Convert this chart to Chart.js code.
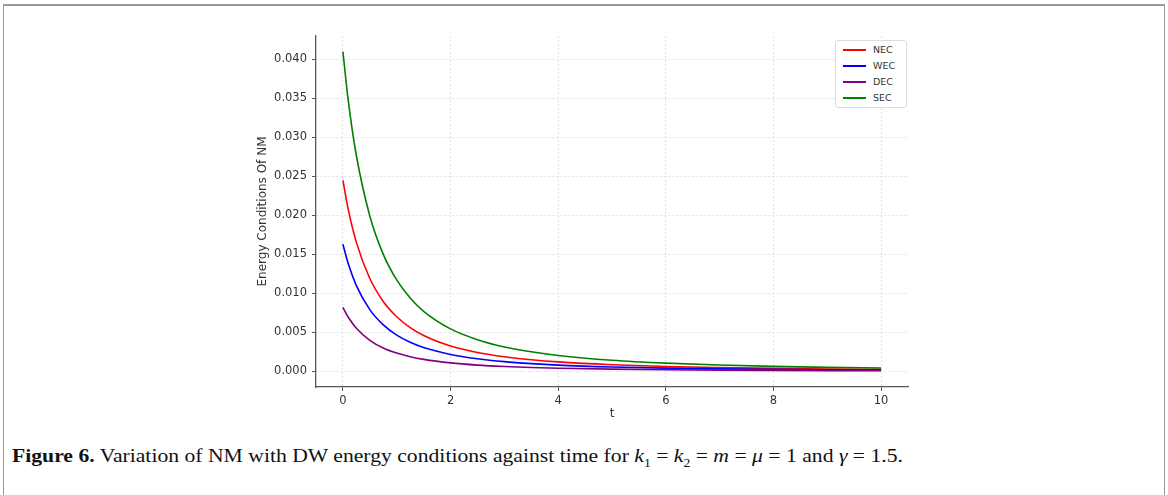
<!DOCTYPE html>
<html>
<head>
<meta charset="utf-8">
<script src="https://cdn.jsdelivr.net/npm/chart.js"></script>
<style>
body{margin:0;background:#fff;width:1168px;height:495px;overflow:hidden;position:relative;}
#frame{position:absolute;left:3px;top:4px;width:1160px;height:530px;border:1px solid #999;border-top:2px solid #999;}
#wrap{position:absolute;left:0;top:0;width:1168px;height:430px;}
#legend{position:absolute;left:835px;top:40px;width:72px;height:68px;border:1px solid #ddd;border-radius:3px;background:#fff;font:9.5px 'DejaVu Sans';color:#333;box-sizing:border-box;}
.row{position:absolute;left:0;height:12px;line-height:12px;width:70px}
.row i{position:absolute;left:7px;top:5px;width:23px;height:1.6px}
.row span{position:absolute;left:37px;top:0}
#caption{position:absolute;left:12px;top:445px;font:19px 'Liberation Serif';color:#111;white-space:nowrap;transform-origin:0 0}
#caption b{font-weight:bold}
</style>
</head>
<body>
<div id="frame"></div>
<div id="wrap"><canvas id="chart"></canvas></div>
<div id="legend"></div>
<div id="caption"><b>Figure 6.</b> Variation of NM with DW energy conditions against time for <i>k</i><sub style="font-size:12px">1</sub> = <i>k</i><sub style="font-size:12px">2</sub> = <i>m</i> = <i>μ</i> = 1 and <i>γ</i> = 1.5.</div>
<script>
// values
var tVals = [0, 0.1, 0.25, 0.5, 0.75, 1, 1.25, 1.5, 2, 2.5, 3, 3.5, 4, 5, 6, 7, 8, 9, 10];
var necVals = [0.0245, 0.02073, 0.01654, 0.01191, 0.00897, 0.00701, 0.00562, 0.00461, 0.00326, 0.00243, 0.00188, 0.0015, 0.00122, 0.00086, 0.00063, 0.00049, 0.00039, 0.00031, 0.00026];
var wecVals = [0.0163, 0.01379, 0.0110, 0.00792, 0.00597, 0.00466, 0.00374, 0.00306, 0.00217, 0.00162, 0.00125, 0.0010, 0.00081, 0.00057, 0.00042, 0.00032, 0.00026, 0.00021, 0.00017];
var decVals = [0.0082, 0.00694, 0.00554, 0.00399, 0.0030, 0.00235, 0.00188, 0.00154, 0.00109, 0.00081, 0.00063, 0.0005, 0.00041, 0.00029, 0.00021, 0.00016, 0.00013, 0.000105, 0.000087];
var secVals = [0.0410, 0.03469, 0.02768, 0.01993, 0.01501, 0.01173, 0.00941, 0.00771, 0.00545, 0.00407, 0.00314, 0.00251, 0.00204, 0.00143, 0.00106, 0.00082, 0.00065, 0.00052, 0.00043];
var seriesNames = ['NEC', 'WEC', 'DEC', 'SEC'];
var seriesColors = ['red', 'blue', 'purple', 'green'];
var xTicks = [0, 2, 4, 6, 8, 10];
var yTicks = [0, 0.005, 0.010, 0.015, 0.020, 0.025, 0.030, 0.035, 0.040];

var allVals = [necVals, wecVals, decVals, secVals];
var datasets = [];
for (var i = 0; i < allVals.length; i++) {
  datasets.push({
    label: seriesNames[i],
    data: tVals.map(function (t, j) { return {x: t, y: allVals[i][j]}; }),
    borderColor: seriesColors[i],
    backgroundColor: seriesColors[i],
    borderWidth: 1.6,
    pointRadius: 0,
    cubicInterpolationMode: 'monotone',
    order: allVals.length - i
  });
}

// legend box like matplotlib's
var leg = document.getElementById('legend');
seriesNames.forEach(function (name, i) {
  var row = document.createElement('div');
  row.className = 'row';
  row.style.top = (3 + i * 16) + 'px';
  row.innerHTML = '<i style="background:' + seriesColors[i] + '"></i><span>' + name + '</span>';
  leg.appendChild(row);
});

var tickFont = {family: 'DejaVu Sans', size: 11.5};
var titleFont = {family: 'DejaVu Sans', size: 12};
var gridOpts = {color: '#e2e2e2', lineWidth: 1, tickLength: 4, tickColor: '#555', tickWidth: 1};
var borderOpts = {display: true, color: '#555', width: 1.3, dash: [2, 2]};

new Chart(document.getElementById('chart'), {
  type: 'line',
  data: {datasets: datasets},
  options: {
    responsive: true,
    maintainAspectRatio: false,
    animation: false,
    layout: {padding: {left: 254, right: 260, top: 36, bottom: 9}},
    plugins: {legend: {display: false}, tooltip: {enabled: false}},
    scales: {
      x: {
        type: 'linear', min: -0.5, max: 10.5,
        afterBuildTicks: function (s) { s.ticks = xTicks.map(function (v) { return {value: v}; }); },
        afterFit: function (s) { s.height = 34; },
        grid: gridOpts,
        border: borderOpts,
        ticks: {color: '#333', font: tickFont, padding: 3, maxRotation: 0, autoSkip: false, callback: function (v) { return String(v); }},
        title: {display: true, text: 't', color: '#333', font: titleFont, padding: {top: 1, bottom: 0}}
      },
      y: {
        type: 'linear', min: -0.002, max: 0.043,
        afterBuildTicks: function (s) { s.ticks = yTicks.map(function (v) { return {value: v}; }); },
        afterFit: function (s) { s.width = 62; },
        grid: gridOpts,
        border: borderOpts,
        ticks: {color: '#333', font: tickFont, padding: 5, autoSkip: false, callback: function (v) { return v.toFixed(3); }},
        title: {display: true, text: 'Energy Conditions Of NM', color: '#333', font: titleFont, padding: {top: 2, bottom: 4}}
      }
    }
  }
});

var cap = document.getElementById('caption');
var w = cap.getBoundingClientRect().width;
cap.style.transform = 'scaleX(' + (891 / w) + ')';
</script>
</body>
</html>
